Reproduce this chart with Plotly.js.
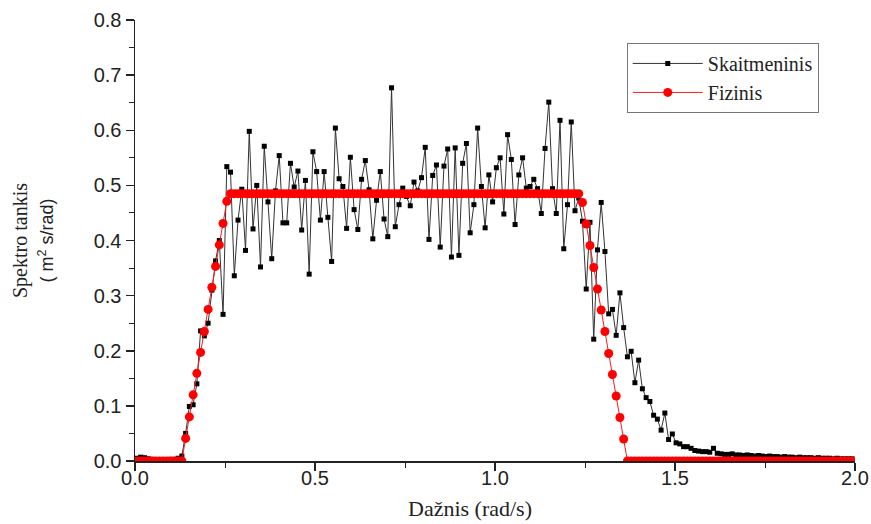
<!DOCTYPE html>
<html>
<head>
<meta charset="utf-8">
<script src="https://cdn.plot.ly/plotly-3.0.1.min.js"></script>
<style>html,body{margin:0;padding:0;background:#fff;}</style>
</head>
<body>
<div id="chart" style="width:871px;height:524px;"></div>
<script>
// Frequency grid (rad/s): evenly spaced samples
const omegaStart = -0.005;
const omegaStep = 0.0104;

// "Skaitmeninis" (digital) spectrum values, m^2 s/rad
const skaitmeninis = [
  0.003,0.005,0.007,0.006,0.004,0.003,0.002,0.002,0.002,0.002,0.003,0.003,0.005,
  0.009,0.050,0.099,0.102,0.140,0.236,0.227,0.250,0.310,0.363,0.400,0.266,
  0.534,0.524,0.336,0.437,0.493,0.382,0.598,0.421,0.500,0.352,
  0.571,0.470,0.367,0.490,0.554,0.432,0.432,0.540,0.497,0.526,
  0.419,0.509,0.339,
  0.561,0.525,0.437,0.525,0.442,0.362,0.604,0.512,0.498,0.422,
  0.551,0.456,0.420,0.511,0.545,0.492,0.403,0.473,0.525,0.439,
  0.407,0.677,0.425,0.465,0.495,
  0.480,0.463,0.506,0.490,0.514,0.569,0.402,0.518,0.537,0.388,
  0.535,0.566,0.370,0.568,0.373,0.540,0.576,0.414,0.465,0.604,
  0.498,0.423,0.519,0.470,0.532,0.550,0.448,0.592,0.547,0.429,
  0.519,0.550,0.495,0.498,0.511,0.494,0.449,0.567,0.651,0.494,
  0.449,0.618,0.385,0.465,0.615,0.454,0.477,
  0.435,0.312,0.433,0.221,0.383,0.469,0.380,0.267,0.275,0.228,
  0.305,0.242,0.189,0.199,0.142,0.183,0.131,0.115,0.108,0.083,
  0.076,0.056,0.087,0.039,0.049,0.033,0.031,0.026,0.026,0.023,
  0.019,0.018,0.017,0.017,0.016,0.023,0.014,
  0.013,0.012,0.012,0.013,0.011,0.011,0.010,0.011,0.010,0.009,
  0.010,0.009,0.008,0.009,0.008,0.008,0.007,0.008,0.007,0.007,
  0.006,0.007,0.006,0.006,0.006,0.005,0.006,0.005,0.005,0.005,
  0.004,0.005,0.004,0.004,0.004,0.004
];

// "Fizinis" (physical) spectrum values, m^2 s/rad
const fizinis = [
  0,0,0,0,0,0,0,0,0,0,0,0,0,0,
  0.041,0.080,0.120,0.159,0.197,0.235,0.275,0.315,0.353,0.392,0.431,0.471,
  0.485,0.485,0.485,0.485,0.485,0.485,0.485,0.485,0.485,0.485,
  0.485,0.485,0.485,0.485,0.485,0.485,0.485,0.485,0.485,0.485,
  0.485,0.485,0.485,0.485,0.485,0.485,0.485,0.485,0.485,0.485,
  0.485,0.485,0.485,0.485,0.485,0.485,0.485,0.485,0.485,0.485,
  0.485,0.485,0.485,0.485,0.485,0.485,0.485,0.485,0.485,0.485,
  0.485,0.485,0.485,0.485,0.485,0.485,0.485,0.485,0.485,0.485,
  0.485,0.485,0.485,0.485,0.485,0.485,0.485,0.485,0.485,0.485,
  0.485,0.485,0.485,0.485,0.485,0.485,0.485,0.485,0.485,0.485,
  0.485,0.485,0.485,0.485,0.485,0.485,0.485,0.485,0.485,0.485,
  0.485,0.485,0.485,0.485,
  0.469,0.430,0.391,0.351,0.312,0.274,0.235,0.195,0.157,0.118,0.079,0.040,
  0,0,0,0,0,0,0,0,0,0,0,0,0,0,0,0,0,0,0,0,
  0,0,0,0,0,0,0,0,0,0,0,0,0,0,0,0,0,0,0,0,
  0,0,0,0,0,0,0,0,0,0,0,0,0,0,0,0,0,0,0,0,0
];

const seriesNames = ['Skaitmeninis', 'Fizinis'];
const xTitle = 'Dažnis (rad/s)';
const yTitleLine1 = 'Spektro tankis';
const yTitleLine2 = '( m<sup>2</sup> s/rad)';

const omegaS = skaitmeninis.map((_, i) => omegaStart + i * omegaStep);
const omegaF = fizinis.map((_, i) => omegaStart + i * omegaStep);

const SERIF = 'Liberation Serif';
const SANS = 'Liberation Sans';

const traces = [
  {
    x: omegaS, y: skaitmeninis, name: seriesNames[0], type: 'scatter', mode: 'lines+markers',
    xaxis: 'x', yaxis: 'y',
    line: {color: '#333333', width: 1},
    marker: {symbol: 'square', size: 5, color: '#000000'}
  },
  {
    x: omegaF, y: fizinis, name: seriesNames[1], type: 'scatter', mode: 'lines+markers',
    xaxis: 'x2', yaxis: 'y',
    line: {color: '#ff1a1a', width: 1},
    marker: {symbol: 'circle', size: 9, color: '#ff0000'}
  }
];

const tickFont = {family: SANS, size: 20, color: '#222'};

const layout = {
  width: 871, height: 524,
  margin: {l: 135, r: 16, t: 20, b: 63},
  paper_bgcolor: '#ffffff', plot_bgcolor: '#ffffff',
  showlegend: true,
  font: {family: SERIF, color: '#222'},
  // main x axis: line and tick marks only
  xaxis: {
    range: [0, 2], tick0: 0, dtick: 0.5,
    showline: true, linecolor: '#222', linewidth: 1.5,
    ticks: 'outside', ticklen: 8, tickwidth: 1.5, tickcolor: '#222',
    showticklabels: false, showgrid: false, zeroline: false,
    minor: {dtick: 0.25, ticks: 'outside', ticklen: 5, tickwidth: 1, tickcolor: '#222', showgrid: false}
  },
  // overlay x axis: carries the tick labels, placed close to the axis line
  xaxis2: {
    overlaying: 'x', anchor: 'y', side: 'bottom',
    range: [0, 2], tick0: 0, dtick: 0.5, tickformat: '.1f',
    ticks: '', showline: false, showgrid: false, zeroline: false,
    ticklabelstandoff: 3,
    tickfont: tickFont
  },
  yaxis: {
    range: [0, 0.8], tick0: 0, dtick: 0.1, tickformat: '.1f',
    showline: true, linecolor: '#222', linewidth: 1.5,
    ticks: 'outside', ticklen: 8, tickwidth: 1.5, tickcolor: '#222',
    showgrid: false, zeroline: false,
    tickfont: tickFont,
    minor: {dtick: 0.05, ticks: 'outside', ticklen: 5, tickwidth: 1, tickcolor: '#222', showgrid: false},
    title: {
      text: yTitleLine1 + '<br><span style="font-family:' + SANS + ';font-size:18px">' + yTitleLine2 + '</span>',
      font: {family: SERIF, size: 20, color: '#222'},
      standoff: 34
    }
  },
  annotations: [
    {
      text: xTitle, xref: 'paper', yref: 'paper', x: 0.4653, y: 0,
      xanchor: 'center', yanchor: 'middle', yshift: -47, showarrow: false,
      font: {family: SERIF, size: 22, color: '#222'}
    }
  ],
  legend: {
    x: 0.683, y: 0.948, xanchor: 'left', yanchor: 'top',
    bordercolor: '#777', borderwidth: 1, bgcolor: '#ffffff',
    font: {family: SERIF, size: 20, color: '#222'},
    itemwidth: 70, tracegroupgap: 0
  }
};

Plotly.newPlot('chart', traces, layout, {displayModeBar: false, staticPlot: true});
</script>
</body>
</html>
